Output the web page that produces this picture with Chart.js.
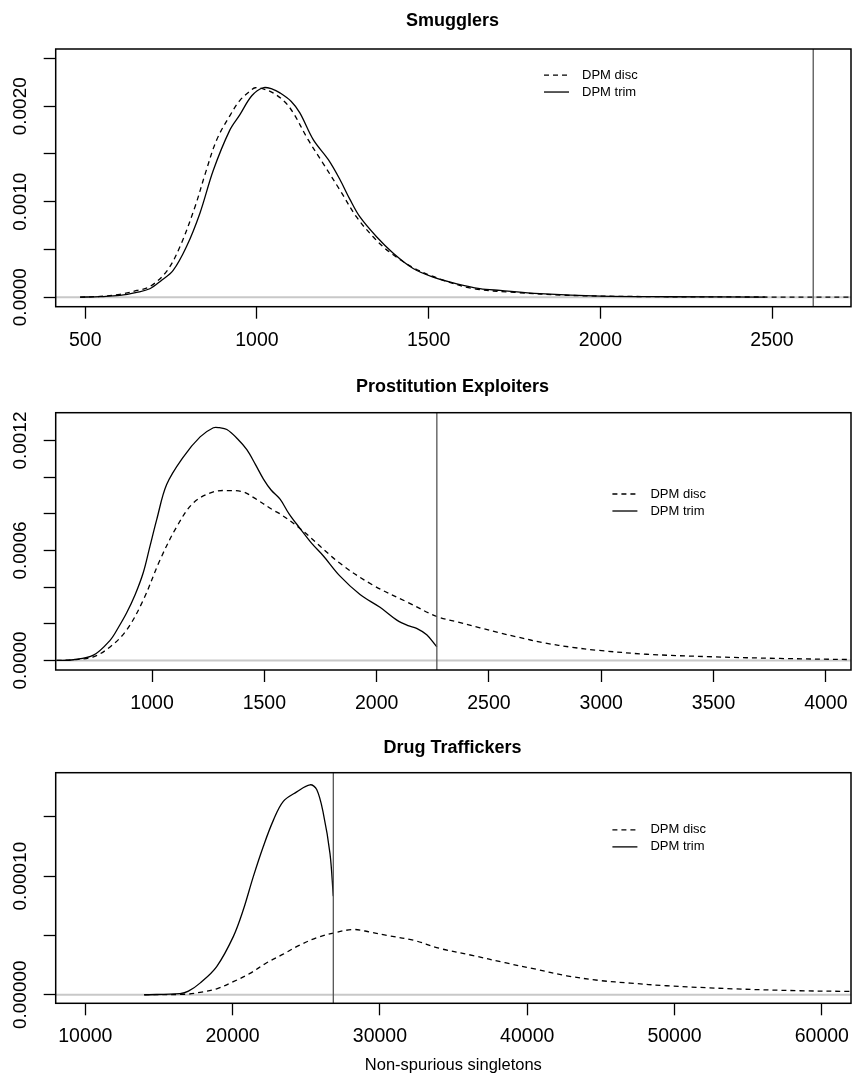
<!DOCTYPE html>
<html>
<head>
<meta charset="utf-8">
<script src="https://cdn.jsdelivr.net/npm/chart.js@4.4.1/dist/chart.umd.min.js"></script>
<style>
  body { margin: 0; background: #fff; }
  canvas { position: absolute; left: 0; }
</style>
</head>
<body>
<canvas id="c1" width="853" height="357" style="top:0px"></canvas>
<canvas id="c2" width="853" height="357" style="top:357px"></canvas>
<canvas id="c3" width="853" height="365" style="top:714px"></canvas>
<script>
const FONT = "'Liberation Sans', Arial, Helvetica, sans-serif";
Chart.defaults.font.family = FONT;
Chart.defaults.color = "#000";

// --- Smugglers ---
const smugDiscX = [485, 543, 601, 650, 688, 737, 776, 820, 850, 883, 921, 950, 980, 995, 1020, 1047, 1080, 1106, 1149, 1193, 1242, 1290, 1339, 1387, 1455, 1533, 1630, 1750, 1900, 2100, 2400, 2730];
const smugDiscY = [0, 0.000008, 0.00003, 0.00007, 0.00011, 0.00027, 0.00053, 0.00095, 0.0013, 0.00165, 0.0019, 0.00206, 0.00216, 0.002194, 0.00218, 0.00214, 0.00205, 0.00193, 0.00165, 0.0014, 0.00112, 0.00084, 0.00063, 0.00047, 0.00031, 0.00019, 0.00009, 0.00005, 0.00002, 0.000007, 0.000002, 0.0000005];
const smugTrimX = [485, 543, 601, 650, 688, 720, 756, 795, 834, 873, 921, 950, 985, 1018, 1045, 1067, 1100, 1125, 1164, 1208, 1242, 1270, 1300, 1349, 1397, 1455, 1513, 1582, 1649, 1708, 1824, 2000, 2200, 2480];
const smugTrimY = [0, 0.000005, 0.000018, 0.00005, 0.000088, 0.00017, 0.00028, 0.00053, 0.00088, 0.00133, 0.00175, 0.00191, 0.00211, 0.002194, 0.00218, 0.00214, 0.00205, 0.00193, 0.00165, 0.00144, 0.00123, 0.00103, 0.00084, 0.00063, 0.00046, 0.0003, 0.00021, 0.00014, 0.00009, 0.00007, 0.000036, 0.00001, 0.000004, 0.000001];
const smugXTicks = [500, 1000, 1500, 2000, 2500];
const smugYTicks = [0, 0.0005, 0.001, 0.0015, 0.002, 0.0025];
const smugYLabels = ["0.0000", "", "0.0010", "", "0.0020", ""];
const smugCut = 2620;

// --- Prostitution Exploiters ---
const prosDiscX = [575, 650, 739, 813, 887, 961, 1036, 1110, 1184, 1273, 1347, 1406, 1451, 1540, 1570, 1659, 1837, 1985, 2134, 2268, 2360, 2460, 2550, 2620, 2750, 2870, 2980, 3202, 3499, 3796, 4112];
const prosDiscY = [0, 0.000004, 0.00002, 0.000074, 0.000166, 0.00033, 0.00055, 0.00073, 0.00086, 0.00092, 0.000927, 0.00092, 0.00089, 0.00082, 0.0008, 0.00072, 0.00053, 0.00041, 0.00032, 0.00024, 0.00021, 0.000178, 0.00015, 0.00013, 0.000095, 0.000072, 0.000056, 0.000034, 0.00002, 0.000011, 0.000005];
const prosTrimX = [575, 650, 739, 813, 850, 887, 925, 961, 990, 1021, 1065, 1139, 1214, 1273, 1300, 1333, 1380, 1422, 1460, 1496, 1530, 1570, 1610, 1659, 1710, 1763, 1837, 1926, 2015, 2090, 2140, 2178, 2223, 2268];
const prosTrimY = [0, 0.000004, 0.000029, 0.00011, 0.00018, 0.00026, 0.00036, 0.00048, 0.00062, 0.00077, 0.00096, 0.00111, 0.00122, 0.00127, 0.00127, 0.00126, 0.00121, 0.00115, 0.00107, 0.00099, 0.00093, 0.00088, 0.0008, 0.00072, 0.00064, 0.00057, 0.00046, 0.00036, 0.00029, 0.00022, 0.00019, 0.000175, 0.00014, 0.000074];
const prosXTicks = [1000, 1500, 2000, 2500, 3000, 3500, 4000];
const prosYTicks = [0, 0.0002, 0.0004, 0.0006, 0.0008, 0.001, 0.0012];
const prosYLabels = ["0.0000", "", "", "0.0006", "", "", "0.0012"];
const prosCut = 2268;

// --- Drug Traffickers ---
const drugDiscX = [14000, 16884, 17787, 18920, 20047, 21181, 22315, 23400, 24576, 25700, 26837, 28194, 29300, 30462, 32268, 34080, 36340, 38493, 40414, 42681, 44942, 47000, 49470, 53992, 58520, 61982];
const drugDiscY = [0, 0.0000005, 0.000002, 0.000005, 0.000011, 0.000018, 0.000027, 0.000034, 0.000042, 0.000048, 0.000052, 0.000055, 0.000053, 0.00005, 0.000046, 0.000039, 0.000033, 0.000027, 0.000022, 0.000016, 0.000012, 0.0000098, 0.0000076, 0.000005, 0.0000034, 0.0000028];
const drugTrimX = [14000, 16430, 17000, 17787, 18920, 20047, 20726, 21405, 22084, 22763, 23442, 24352, 25255, 25709, 26158, 26612, 26837];
const drugTrimY = [0, 0.000001, 0.000003, 0.0000098, 0.0000238, 0.000049, 0.0000716, 0.0000996, 0.000125, 0.000147, 0.000163, 0.000171, 0.000177, 0.000173, 0.000153, 0.000119, 0.000083];
const drugXTicks = [10000, 20000, 30000, 40000, 50000, 60000];
const drugYTicks = [0, 0.00005, 0.0001, 0.00015];
const drugYLabels = ["0.00000", "", "0.00010", ""];
const drugCut = 26837;

function pts(xs, ys) {
  return xs.map((x, i) => ({ x: x, y: ys[i] }));
}

// R-like extras: zero line, cut line, box, rotated y labels, legend
const rStyle = {
  id: "rStyle",
  beforeDatasetsDraw(chart) {
    const { ctx, chartArea: a, scales: { y } } = chart;
    const y0 = y.getPixelForValue(0);
    ctx.save();
    ctx.strokeStyle = "#c8c8c8";
    ctx.lineWidth = 2;
    ctx.beginPath();
    ctx.moveTo(a.left, y0);
    ctx.lineTo(a.right, y0);
    ctx.stroke();
    ctx.restore();
  },
  afterDraw(chart, args, o) {
    const { ctx, chartArea: a, scales: { x, y } } = chart;
    ctx.save();

    // vertical cut line
    const cx = x.getPixelForValue(o.cut);
    ctx.strokeStyle = "#555";
    ctx.lineWidth = 1.3;
    ctx.beginPath();
    ctx.moveTo(cx, a.top);
    ctx.lineTo(cx, a.bottom);
    ctx.stroke();

    // box
    ctx.strokeStyle = "#000";
    ctx.lineWidth = 1.5;
    ctx.strokeRect(a.left, a.top, a.right - a.left, a.bottom - a.top);

    // rotated y tick labels
    ctx.fillStyle = "#000";
    ctx.font = "19px " + FONT;
    ctx.textAlign = "center";
    ctx.textBaseline = "middle";
    o.yTicks.forEach((v, i) => {
      if (!o.yLabels[i]) return;
      ctx.save();
      ctx.translate(a.left - 34.5, y.getPixelForValue(v));
      ctx.rotate(-Math.PI / 2);
      ctx.fillText(o.yLabels[i], 0, 0);
      ctx.restore();
    });

    // legend
    const lx = a.left + o.legendAt[0] * (a.right - a.left);
    let ly = a.top + o.legendAt[1] * (a.bottom - a.top);
    ctx.font = "13px " + FONT;
    ctx.textAlign = "left";
    chart.data.datasets.forEach(ds => {
      ctx.setLineDash(ds.borderDash || []);
      ctx.lineWidth = 1.3;
      ctx.beginPath();
      ctx.moveTo(lx, ly);
      ctx.lineTo(lx + 25, ly);
      ctx.stroke();
      ctx.setLineDash([]);
      ctx.fillText(ds.label, lx + 38, ly);
      ly += 17;
    });
    ctx.restore();
  }
};

function makePanel(id, p) {
  const line = { borderColor: "#000", borderWidth: 1.3, pointRadius: 0, fill: false, tension: 0.35 };
  const grid = { drawOnChartArea: false, drawTicks: true, tickLength: 12, tickColor: "#000", tickWidth: 1.3 };
  return new Chart(document.getElementById(id), {
    type: "line",
    data: {
      datasets: [
        Object.assign({ label: "DPM disc", data: pts(p.discX, p.discY), borderDash: [5, 4] }, line),
        Object.assign({ label: "DPM trim", data: pts(p.trimX, p.trimY) }, line)
      ]
    },
    options: {
      responsive: false,
      animation: false,
      layout: { padding: { left: 54, right: 2, top: 0, bottom: 0 } },
      plugins: {
        legend: { display: false },
        tooltip: { enabled: false },
        title: {
          display: true,
          text: p.title,
          color: "#000",
          font: { size: 18, weight: "bold" },
          padding: { top: p.titleTop, bottom: p.titleBottom }
        },
        rStyle: { cut: p.cut, yTicks: p.yTicks, yLabels: p.yLabels, legendAt: p.legendAt }
      },
      scales: {
        x: {
          type: "linear",
          min: p.xMin,
          max: p.xMax,
          afterBuildTicks: s => { s.ticks = p.xTicks.map(v => ({ value: v })); },
          afterFit: s => { s.height = p.xHeight; s.paddingLeft = 0; s.paddingRight = 0; },
          ticks: { autoSkip: false, maxRotation: 0, padding: 10, color: "#000", font: { size: 19.5 }, callback: v => String(v) },
          grid: grid,
          border: { display: false },
          title: p.xTitle ? { display: true, text: p.xTitle, color: "#000", font: { size: 16.5 }, padding: { top: 0, bottom: 4 } } : { display: false }
        },
        y: {
          type: "linear",
          min: p.yMin,
          max: p.yMax,
          afterBuildTicks: s => { s.ticks = p.yTicks.map(v => ({ value: v })); },
          afterFit: s => { s.width = 1.7; s.paddingTop = 0; s.paddingBottom = 0; },
          ticks: { display: false },
          grid: grid,
          border: { display: false }
        }
      }
    },
    plugins: [rStyle]
  });
}

makePanel("c1", {
  title: "Smugglers", titleTop: 10.2, titleBottom: 17.2, xHeight: 50.3,
  discX: smugDiscX, discY: smugDiscY, trimX: smugTrimX, trimY: smugTrimY,
  xMin: 414, xMax: 2730, yMin: -0.0001, yMax: 0.0026,
  xTicks: smugXTicks, yTicks: smugYTicks, yLabels: smugYLabels,
  cut: smugCut, legendAt: [0.614, 0.101]
});

makePanel("c2", {
  title: "Prostitution Exploiters", titleTop: 18.9, titleBottom: 15.2, xHeight: 44,
  discX: prosDiscX, discY: prosDiscY, trimX: prosTrimX, trimY: prosTrimY,
  xMin: 571, xMax: 4112, yMin: -0.000052, yMax: 0.001352,
  xTicks: prosXTicks, yTicks: prosYTicks, yLabels: prosYLabels,
  cut: prosCut, legendAt: [0.700, 0.316]
});

makePanel("c3", {
  title: "Drug Traffickers", titleTop: 23.4, titleBottom: 13.7, xHeight: 75.7,
  discX: drugDiscX, discY: drugDiscY, trimX: drugTrimX, trimY: drugTrimY,
  xMin: 7990, xMax: 61982, yMin: -0.0000072, yMax: 0.0001872,
  xTicks: drugXTicks, yTicks: drugYTicks, yLabels: drugYLabels,
  cut: drugCut, legendAt: [0.700, 0.248], xTitle: "Non-spurious singletons"
});
</script>
</body>
</html>
